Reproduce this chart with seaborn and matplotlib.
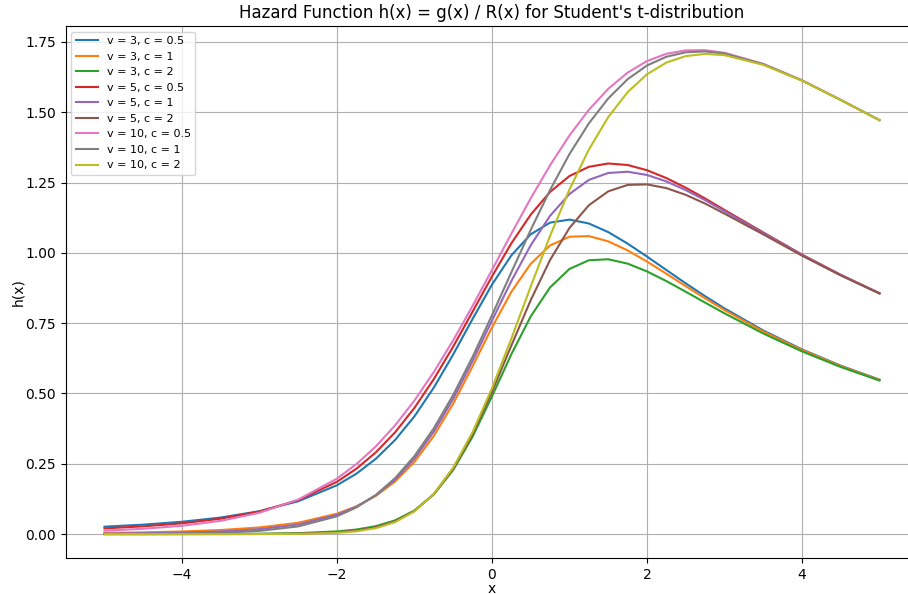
import matplotlib
matplotlib.use("Agg")
import matplotlib.pyplot as plt
import seaborn as sns
import pandas as pd

# x grid of the curves (finer where the curves bend)
x = [-5.0, -4.5, -4.0, -3.5, -3.0, -2.5, -2.0, -1.75, -1.5, -1.25, -1.0, -0.75, -0.5, -0.25,
     0.0, 0.25, 0.5, 0.75, 1.0, 1.25, 1.5, 1.75, 2.0, 2.25, 2.5, 2.75, 3.0, 3.5, 4.0, 4.5, 5.0]

# h(x), one list per (v, c)
h_v3_c05 = [0.0264, 0.0336, 0.0439, 0.0589, 0.0815, 0.1168, 0.1738, 0.2148, 0.2676, 0.3349, 0.4191,
            0.5213, 0.6392, 0.7653, 0.8874, 0.9913, 1.0662, 1.1077, 1.1183, 1.1045, 1.0739, 1.0330,
            0.9869, 0.9391, 0.8915, 0.8459, 0.8026, 0.7241, 0.6567, 0.5989, 0.5493]
h_v3_c1 = [0.0043, 0.0062, 0.0093, 0.0145, 0.0237, 0.0404, 0.0726, 0.0988, 0.1357, 0.1870, 0.2570,
           0.3493, 0.4645, 0.5972, 0.7351, 0.8616, 0.9615, 1.0267, 1.0575, 1.0597, 1.0410, 1.0089,
           0.9691, 0.9258, 0.8815, 0.8383, 0.7967, 0.7205, 0.6543, 0.5973, 0.5482]
h_v3_c2 = [0.0001, 0.0001, 0.0003, 0.0006, 0.0013, 0.0034, 0.0095, 0.0162, 0.0281, 0.0488, 0.0841,
           0.1415, 0.2282, 0.3469, 0.4901, 0.6399, 0.7744, 0.8775, 0.9430, 0.9738, 0.9773, 0.9618,
           0.9341, 0.8996, 0.8618, 0.8232, 0.7850, 0.7134, 0.6497, 0.5942, 0.5461]
h_v5_c05 = [0.0203, 0.0276, 0.0384, 0.0548, 0.0803, 0.1209, 0.1862, 0.2324, 0.2904, 0.3621, 0.4492,
            0.5515, 0.6671, 0.7912, 0.9165, 1.0342, 1.1362, 1.2169, 1.2734, 1.3061, 1.3179, 1.3125,
            1.2940, 1.2660, 1.2317, 1.1934, 1.1527, 1.0728, 0.9940, 0.9220, 0.8567]
h_v5_c1 = [0.0018, 0.0030, 0.0052, 0.0093, 0.0176, 0.0343, 0.0686, 0.0974, 0.1379, 0.1937, 0.2684,
           0.3645, 0.4817, 0.6160, 0.7592, 0.9002, 1.0273, 1.1322, 1.2096, 1.2595, 1.2842, 1.2886,
           1.2770, 1.2541, 1.2232, 1.1874, 1.1482, 1.0705, 0.9926, 0.9213, 0.8562]
h_v5_c2 = [0.0000, 0.0000, 0.0001, 0.0002, 0.0005, 0.0018, 0.0067, 0.0128, 0.0244, 0.0456, 0.0825,
           0.1427, 0.2331, 0.3559, 0.5061, 0.6707, 0.8322, 0.9752, 1.0888, 1.1695, 1.2188, 1.2417,
           1.2436, 1.2303, 1.2063, 1.1753, 1.1395, 1.0659, 0.9901, 0.9198, 0.8554]
h_v10_c05 = [0.0123, 0.0189, 0.0297, 0.0472, 0.0760, 0.1228, 0.1974, 0.2488, 0.3115, 0.3868, 0.4752,
             0.5765, 0.6894, 0.8116, 0.9394, 1.0685, 1.1942, 1.3119, 1.4177, 1.5088, 1.5834, 1.6410,
             1.6821, 1.7080, 1.7202, 1.7207, 1.7117, 1.6721, 1.6137, 1.5443, 1.4720]
h_v10_c1 = [0.0004, 0.0009, 0.0020, 0.0048, 0.0115, 0.0274, 0.0635, 0.0948, 0.1389, 0.1990, 0.2777,
            0.3766, 0.4951, 0.6307, 0.7782, 0.9311, 1.0820, 1.2240, 1.3515, 1.4606, 1.5494, 1.6176,
            1.6664, 1.6975, 1.7134, 1.7163, 1.7088, 1.6710, 1.6132, 1.5437, 1.4721]
h_v10_c2 = [0.0000, 0.0000, 0.0000, 0.0000, 0.0002, 0.0008, 0.0045, 0.0099, 0.0211, 0.0426, 0.0809,
            0.1434, 0.2366, 0.3629, 0.5188, 0.6955, 0.8805, 1.0608, 1.2256, 1.3675, 1.4829, 1.5716,
            1.6352, 1.6768, 1.6998, 1.7075, 1.7031, 1.6686, 1.6122, 1.5433, 1.4719]

labels = ["v = 3, c = 0.5", "v = 3, c = 1", "v = 3, c = 2",
          "v = 5, c = 0.5", "v = 5, c = 1", "v = 5, c = 2",
          "v = 10, c = 0.5", "v = 10, c = 1", "v = 10, c = 2"]
series = [h_v3_c05, h_v3_c1, h_v3_c2, h_v5_c05, h_v5_c1, h_v5_c2,
          h_v10_c05, h_v10_c1, h_v10_c2]

rows = []
for lab, ys in zip(labels, series):
    for xi, yi in zip(x, ys):
        rows.append({"x": xi, "h": yi, "curve": lab})
df = pd.DataFrame(rows)

fig = plt.figure(figsize=(9.08, 5.94), dpi=100)
# the right edge of the axes runs a little past the figure, as in the reference crop
ax = fig.add_axes([0.0724, 0.0601, 0.9389, 0.8961])
sns.lineplot(data=df, x="x", y="h", hue="curve", hue_order=labels,
             palette="tab10", linewidth=1.5, ax=ax)
ax.set_title("Hazard Function h(x) = g(x) / R(x) for Student's t-distribution")
ax.set_xlabel("x", labelpad=-0.3)
ax.set_ylabel("h(x)", labelpad=0)
ax.grid(True)
ax.legend(loc="upper left", fontsize=8)

fig.savefig("out.png", dpi=100)
